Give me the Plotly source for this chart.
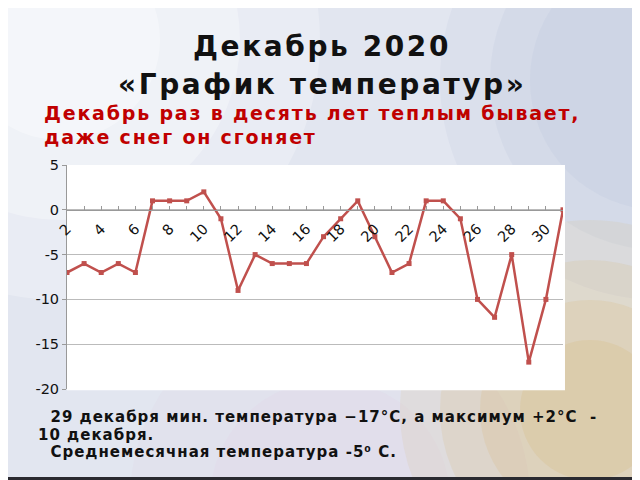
import plotly.graph_objects as go

# дни декабря и температура
days = list(range(2, 32))
temps = [-7, -6, -7, -6, -7, 1, 1, 1, 2, -1,
         -9, -5, -6, -6, -6, -3, -1, 1, -3, -7,
         -6, 1, 1, -1, -10, -12, -5, -17, -10, 0]
x_tick_vals = list(range(2, 31, 2))
y_tick_vals = [5, 0, -5, -10, -15, -20]
y_tick_text = ["5", "0", "-5", "-10", "-15", "-20"]

title_lines = ["Декабрь 2020", "«График температур»"]
poem_lines = ["Декабрь раз в десять лет теплым бывает,", "даже снег он сгоняет"]
note_lines = ["  29 декабря мин. температура −17°С, а максимум +2°С  -",
              "10 декабря.",
              "  Среднемесячная температура -5⁰ С."]

# страница даёт отступ 8px, поэтому всё сдвигаем
OFF = 8
W, H = 640 - OFF, 480 - OFF
L, R, T, B = 67 - OFF, 563 - OFF, 165 - OFF, 389 - OFF
FONT = "DejaVu Sans"


def px(x):
    return (x - OFF - L) / (R - L)


def py(y):
    return (B - (y - OFF)) / (B - T)


def spaced(t, ls):
    t = t.replace("  ", "&nbsp;&nbsp;")
    return f'<b><span style="letter-spacing:{ls}px">{t}</span></b>'


def blob(cx, cy, r, color):
    return dict(type="circle", xref="paper", yref="paper", layer="below",
                x0=px(cx - r), x1=px(cx + r), y0=py(cy + r), y1=py(cy - r),
                fillcolor=color, line=dict(width=0))


fig = go.Figure()
fig.add_trace(go.Scatter(
    x=days, y=temps, mode="lines+markers",
    line=dict(color="#c0504d", width=2.5),
    marker=dict(symbol="square", size=5, color="#c0504d"),
    hoverinfo="x+y", showlegend=False,
))

# фон: светлый, голубоватый справа, золотистый завиток справа внизу
shapes = []
for r, a in [(220, 0.12), (170, 0.14), (130, 0.14)]:
    shapes.append(blob(660, 80, r, f"rgba(170,185,215,{a})"))
for r, a in [(200, 0.12), (120, 0.14)]:
    shapes.append(blob(330, 500, r, f"rgba(225,200,225,{a})"))
for r, a in [(190, 0.12), (150, 0.16), (110, 0.18), (70, 0.2)]:
    shapes.append(blob(590, 410, r, f"rgba(214,180,110,{a})"))
for r, a in [(260, 0.25), (180, 0.3), (100, 0.35)]:
    shapes.append(blob(60, 40, r, f"rgba(255,255,255,{a})"))
# тёмные полосы по краю
shapes.append(dict(type="rect", xref="paper", yref="paper", layer="above",
                   x0=px(0), x1=px(660), y0=py(500), y1=py(477),
                   fillcolor="#2a2a30", line=dict(width=0)))
shapes.append(dict(type="rect", xref="paper", yref="paper", layer="above",
                   x0=px(635), x1=px(660), y0=py(500), y1=py(0),
                   fillcolor="#3a3a44", line=dict(width=0)))
# белая область графика
shapes.append(dict(type="rect", xref="paper", yref="paper", layer="below",
                   x0=0, x1=1.004, y0=-0.006, y1=1.0,
                   fillcolor="white", line=dict(width=0)))

annotations = []
for i, t in enumerate(title_lines):
    annotations.append(dict(text=spaced(t, 2.6), x=px(322), y=py(46 + i * 38),
                            xref="paper", yref="paper", showarrow=False,
                            xanchor="center", yanchor="middle",
                            font=dict(family=FONT, size=28, color="#111111")))
for i, t in enumerate(poem_lines):
    annotations.append(dict(text=spaced(t, 1.8), x=px(42), y=py(113 + i * 24),
                            xref="paper", yref="paper", showarrow=False,
                            xanchor="left", yanchor="middle",
                            font=dict(family=FONT, size=19, color="#c00000")))
for i, t in enumerate(note_lines):
    annotations.append(dict(text=spaced(t, 1.0), x=px(36), y=py(417 + i * 17.5),
                            xref="paper", yref="paper", showarrow=False,
                            xanchor="left", yanchor="middle",
                            font=dict(family=FONT, size=15, color="#111111")))

fig.update_layout(
    width=W, height=H,
    margin=dict(l=L, r=W - R, t=T, b=H - B),
    paper_bgcolor="#e2e6f0",
    plot_bgcolor="rgba(0,0,0,0)",
    font=dict(family=FONT, size=14, color="#111111"),
    shapes=shapes,
    annotations=annotations,
    xaxis=dict(
        range=[2, 31], tickvals=x_tick_vals, tickangle=-45,
        anchor="free", position=0.8,
        showline=True, linecolor="#999999", linewidth=1,
        ticks="inside", ticklen=4, tickcolor="#999999",
        minor=dict(ticks="inside", ticklen=4, tickcolor="#999999", dtick=1, tick0=2),
        showgrid=False, zeroline=False, ticklabelstandoff=4,
        tickfont=dict(family=FONT, size=14.5, color="#111111"),
    ),
    yaxis=dict(
        range=[-20, 5], tickvals=y_tick_vals, ticktext=y_tick_text,
        showline=True, linecolor="#999999", linewidth=1,
        ticks="outside", ticklen=4, tickcolor="#999999",
        showgrid=True, gridcolor="#bbbbbb", gridwidth=1, zeroline=False,
        tickfont=dict(family=FONT, size=14.5, color="#111111"),
    ),
)

fig.write_html("out.html")
